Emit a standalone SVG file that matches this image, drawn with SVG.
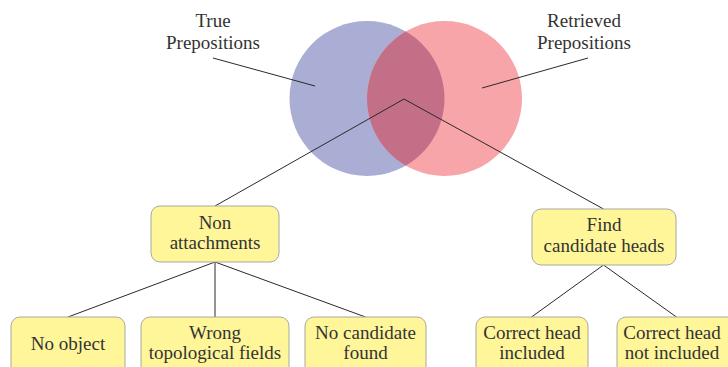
<svg xmlns="http://www.w3.org/2000/svg" width="728" height="367" viewBox="0 0 728 367">
<style>
.box{fill:#fff599;stroke:#a8a8a0;stroke-width:1}
.t{font-family:"Liberation Serif","Times New Roman",serif;font-size:19px;fill:#333;text-anchor:middle}
.c{stroke:#2a2a2a;stroke-width:1;fill:none}
</style>
<rect width="728" height="367" fill="#fff"/>
<g id="venn">
<circle cx="367" cy="98.5" r="77.5" fill="#aaaed4"/>
<circle cx="444.5" cy="98.5" r="77.5" fill="#f7a5a9"/>
<path d="M405.75 31.4 A77.5 77.5 0 0 1 405.75 165.6 A77.5 77.5 0 0 1 405.75 31.4 Z" fill="#c36f87"/>
</g>
<g id="connectors">
<line class="c" x1="213" y1="58" x2="315" y2="86"/>
<line class="c" x1="588" y1="58" x2="482" y2="88"/>
<line class="c" x1="404" y1="99" x2="215" y2="206"/>
<line class="c" x1="404" y1="99" x2="603.5" y2="209"/>
<line class="c" x1="215" y1="262" x2="68" y2="317"/>
<line class="c" x1="215" y1="262" x2="215" y2="317"/>
<line class="c" x1="215" y1="262" x2="365.5" y2="317"/>
<line class="c" x1="603.5" y1="265" x2="531.5" y2="317"/>
<line class="c" x1="603.5" y1="265" x2="676.5" y2="317"/>
</g>
<g id="label-true">
<text class="t" x="213" y="27">True</text>
<text class="t" x="213" y="49">Prepositions</text>
</g>
<g id="label-retrieved">
<text class="t" x="584" y="27">Retrieved</text>
<text class="t" x="584" y="49">Prepositions</text>
</g>
<g id="non-attachments">
<rect class="box" x="151" y="206" width="128" height="56" rx="9"/>
<text class="t" x="215" y="229">Non</text>
<text class="t" x="215" y="249">attachments</text>
</g>
<g id="find-candidate-heads">
<rect class="box" x="532" y="209" width="144" height="56" rx="9"/>
<text class="t" x="604" y="231">Find</text>
<text class="t" x="604" y="252">candidate heads</text>
</g>
<g id="no-object">
<rect class="box" x="11" y="317" width="114" height="60" rx="9"/>
<text class="t" x="68" y="350">No object</text>
</g>
<g id="wrong-topological-fields">
<rect class="box" x="141" y="317" width="148" height="60" rx="9"/>
<text class="t" x="215" y="339">Wrong</text>
<text class="t" x="215" y="359">topological fields</text>
</g>
<g id="no-candidate-found">
<rect class="box" x="305" y="317" width="121" height="60" rx="9"/>
<text class="t" x="365.5" y="339">No candidate</text>
<text class="t" x="365.5" y="359">found</text>
</g>
<g id="correct-head-included">
<rect class="box" x="476" y="317" width="112" height="60" rx="9"/>
<text class="t" x="532" y="339">Correct head</text>
<text class="t" x="532" y="359">included</text>
</g>
<g id="correct-head-not-included">
<rect class="box" x="617" y="317" width="121" height="60" rx="9"/>
<text class="t" x="672" y="339">Correct head</text>
<text class="t" x="672" y="359">not included</text>
</g>
</svg>
